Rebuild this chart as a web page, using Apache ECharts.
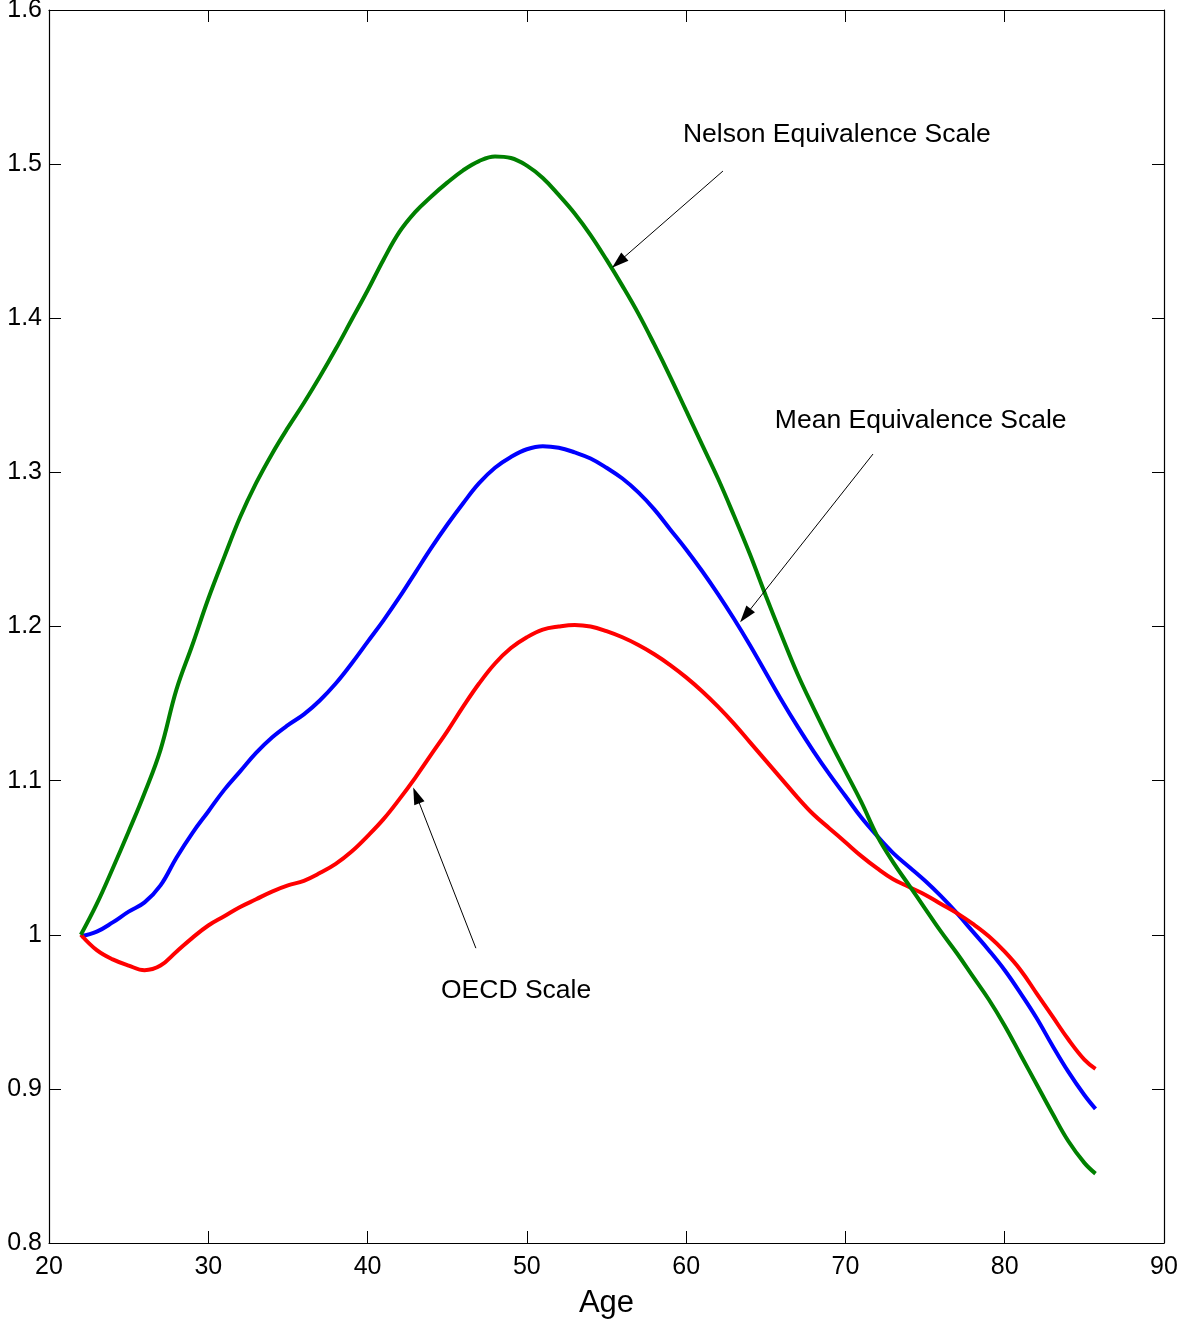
<!DOCTYPE html>
<html>
<head>
<meta charset="utf-8">
<title>Equivalence scales by age</title>
<script src="https://cdn.jsdelivr.net/npm/echarts@6/dist/echarts.min.js"></script>
<style>
  html, body { margin: 0; padding: 0; background: #ffffff; }
  #chart { width: 1181px; height: 1326px; }
</style>
</head>
<body>
<div id="chart"></div>
<script>
// Age of household head (years)
const ages = [22, 23, 24, 25, 26, 27, 28, 29, 30, 31, 32, 33, 34, 35, 36, 37, 38, 39, 40, 41,
  42, 43, 44, 45, 46, 47, 48, 49, 50, 51, 52, 53, 54, 55, 56, 57, 58, 59, 60, 61,
  62, 63, 64, 65, 66, 67, 68, 69, 70, 71, 72, 73, 74, 75, 76, 77, 78, 79, 80, 81,
  82, 83, 84, 85, 85.7];

// Nelson equivalence scale
const nelson = [1.000, 1.020, 1.043, 1.067, 1.092, 1.120, 1.159, 1.188, 1.218, 1.245,
  1.271, 1.293, 1.312, 1.329, 1.345, 1.362, 1.380, 1.399, 1.418, 1.438,
  1.456, 1.469, 1.479, 1.488, 1.496, 1.502, 1.505, 1.504, 1.499, 1.491,
  1.480, 1.468, 1.454, 1.438, 1.421, 1.403, 1.383, 1.362, 1.340, 1.318,
  1.296, 1.272, 1.247, 1.220, 1.194, 1.169, 1.147, 1.126, 1.106, 1.086,
  1.064, 1.047, 1.032, 1.017, 1.002, 0.988, 0.973, 0.958, 0.941, 0.922,
  0.903, 0.884, 0.866, 0.852, 0.845];

// Mean equivalence scale
const meanScale = [0.999, 1.002, 1.008, 1.015, 1.021, 1.032, 1.050, 1.066, 1.080, 1.094,
  1.106, 1.118, 1.128, 1.136, 1.143, 1.152, 1.163, 1.176, 1.190, 1.204,
  1.219, 1.235, 1.251, 1.266, 1.280, 1.293, 1.303, 1.310, 1.315, 1.317,
  1.316, 1.313, 1.309, 1.303, 1.296, 1.287, 1.276, 1.263, 1.250, 1.236,
  1.221, 1.205, 1.188, 1.170, 1.152, 1.135, 1.119, 1.104, 1.090, 1.076,
  1.064, 1.053, 1.044, 1.035, 1.025, 1.014, 1.002, 0.990, 0.977, 0.962,
  0.946, 0.928, 0.911, 0.896, 0.887];

// OECD equivalence scale
const oecd = [1.000, 0.990, 0.984, 0.980, 0.977, 0.980, 0.989, 0.998, 1.006, 1.012,
  1.018, 1.023, 1.028, 1.032, 1.035, 1.040, 1.046, 1.054, 1.064, 1.075,
  1.088, 1.102, 1.117, 1.132, 1.148, 1.163, 1.176, 1.186, 1.193, 1.198,
  1.200, 1.201, 1.200, 1.197, 1.193, 1.188, 1.182, 1.175, 1.167, 1.158,
  1.148, 1.137, 1.125, 1.113, 1.101, 1.089, 1.078, 1.069, 1.060, 1.051,
  1.043, 1.036, 1.031, 1.026, 1.020, 1.014, 1.007, 0.999, 0.989, 0.977,
  0.962, 0.947, 0.932, 0.919, 0.913];

// Annotation labels: text, anchor (age, scale value) at the left/middle of the text
const noteTexts = ['Nelson Equivalence Scale', 'Mean Equivalence Scale', 'OECD Scale'];
const noteAnchors = [[59.8, 1.519], [65.57, 1.3333], [44.61, 0.9634]];
// Pointer arrows: [from, to] in (age, scale value)
const arrowLines = [
  [[62.31, 1.4955], [55.75, 1.4364]],
  [[71.73, 1.3119], [63.72, 1.2071]],
  [[46.80, 0.9913], [43.06, 1.0904]]
];

const FONT = '"Liberation Sans", Arial, Helvetica, sans-serif';

function pairs(ys) {
  return ages.map((a, i) => [a, ys[i]]);
}

const chart = echarts.init(document.getElementById('chart'), null, { renderer: 'canvas' });

const axisLineStyle = { color: '#000000', width: 1.2 };
const tickCommon = { show: true, inside: true, length: 12, lineStyle: { color: '#000000', width: 1 } };

const option = {
  backgroundColor: '#ffffff',
  animation: false,
  grid: { left: 49, right: 17, top: 10, bottom: 83, containLabel: false, outerBoundsMode: 'none' },
  xAxis: [
    {
      type: 'value', min: 20, max: 90, interval: 10, position: 'bottom',
      name: 'Age', nameLocation: 'middle', nameGap: 45,
      nameTextStyle: { fontFamily: FONT, fontSize: 31, color: '#000000' },
      axisLine: { show: true, onZero: false, lineStyle: axisLineStyle },
      axisTick: tickCommon,
      axisLabel: { fontFamily: FONT, fontSize: 25, color: '#000000', margin: 12 },
      splitLine: { show: false }
    },
    {
      type: 'value', min: 20, max: 90, interval: 10, position: 'top',
      axisLine: { show: true, onZero: false, lineStyle: axisLineStyle },
      axisTick: tickCommon,
      axisLabel: { show: false },
      splitLine: { show: false }
    }
  ],
  yAxis: [
    {
      type: 'value', min: 0.8, max: 1.6, interval: 0.1, position: 'left',
      axisLine: { show: true, onZero: false, lineStyle: axisLineStyle },
      axisTick: tickCommon,
      axisLabel: {
        fontFamily: FONT, fontSize: 25, color: '#000000', margin: 7,
        showMinLabel: true, showMaxLabel: true,
        formatter: v => String(Math.round(v * 10) / 10)
      },
      splitLine: { show: false }
    },
    {
      type: 'value', min: 0.8, max: 1.6, interval: 0.1, position: 'right',
      axisLine: { show: true, onZero: false, lineStyle: axisLineStyle },
      axisTick: tickCommon,
      axisLabel: { show: false },
      splitLine: { show: false }
    }
  ],
  series: [
    {
      name: 'Mean Equivalence Scale', type: 'line', data: pairs(meanScale),
      showSymbol: false, smooth: 0.4, lineStyle: { color: '#0000ff', width: 4 }, z: 2
    },
    {
      name: 'OECD Scale', type: 'line', data: pairs(oecd),
      showSymbol: false, smooth: 0.4, lineStyle: { color: '#ff0000', width: 4 }, z: 3
    },
    {
      name: 'Nelson Equivalence Scale', type: 'line', data: pairs(nelson),
      showSymbol: false, smooth: 0.4, lineStyle: { color: '#008000', width: 4 }, z: 4,
      markLine: {
        silent: true,
        animation: false,
        symbol: ['none', 'triangle'],
        symbolSize: [0, [11, 17]],
        label: { show: false },
        lineStyle: { color: '#000000', width: 1, type: 'solid' },
        itemStyle: { color: '#000000' },
        emphasis: { disabled: true },
        data: arrowLines.map(([from, to]) => [
          { coord: from, symbol: 'none' },
          { coord: to, symbol: 'triangle', symbolSize: [11, 17] }
        ])
      }
    }
  ]
};

chart.setOption(option);

// Text annotations placed at their data anchors
chart.setOption({
  graphic: noteTexts.map((t, i) => {
    const p = chart.convertToPixel({ xAxisIndex: 0, yAxisIndex: 0 }, noteAnchors[i]);
    return {
      type: 'text', x: p[0], y: p[1], z: 10,
      style: {
        text: t, fill: '#000000', font: '26.5px ' + FONT,
        textAlign: 'left', textVerticalAlign: 'middle'
      }
    };
  })
});
</script>
</body>
</html>
